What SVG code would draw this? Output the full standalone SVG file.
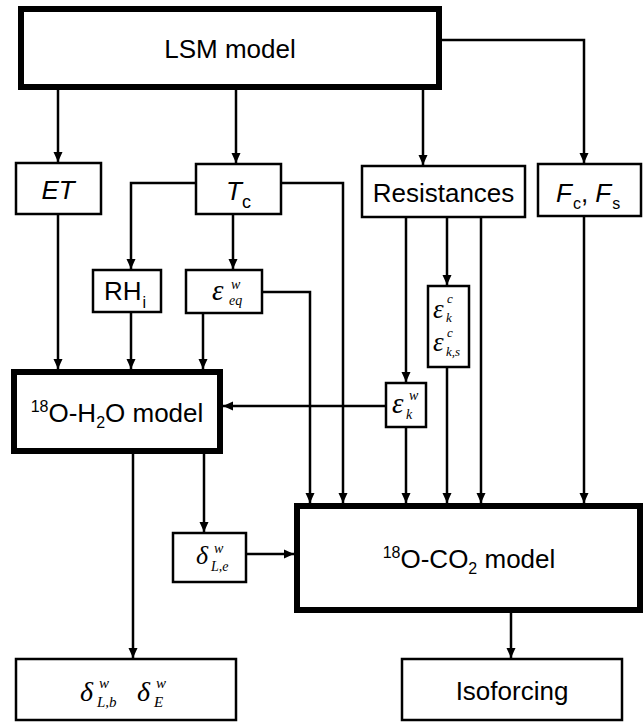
<svg xmlns="http://www.w3.org/2000/svg" width="644" height="722" viewBox="0 0 644 722">
<style>
.box{fill:#fff;stroke:#000;stroke-width:2.5}
.thick{stroke-width:6}
.t{font-family:"Liberation Sans",Arial,sans-serif;font-size:26px;fill:#000}
.m{font-family:"Liberation Serif","Times New Roman",serif;font-style:italic;fill:#000}
.c{stroke:#000;stroke-width:2.5;fill:none;marker-end:url(#ah)}
</style>
<defs>
<marker id="ah" markerUnits="userSpaceOnUse" markerWidth="10" markerHeight="10" refX="10" refY="5" orient="auto">
<path d="M0,0.5 L10,5 L0,9.5 z" fill="#000"/>
</marker>
</defs>
<rect width="644" height="722" fill="#fff"/>
<g id="connectors">
<path class="c" d="M58,90 V162"/>
<path class="c" d="M236,90 V163"/>
<path class="c" d="M423,90 V165"/>
<path class="c" d="M442,40 H584 V163"/>
<path class="c" d="M58,215 V369"/>
<path class="c" d="M196,183 H131 V269"/>
<path class="c" d="M233,215 V269"/>
<path class="c" d="M282,183 H343 V503"/>
<path class="c" d="M131,313 V369"/>
<path class="c" d="M203,314 V369"/>
<path class="c" d="M263,292 H310 V503"/>
<path class="c" d="M406,218 V382"/>
<path class="c" d="M447,218 V285"/>
<path class="c" d="M481,218 V503"/>
<path class="c" d="M385,406 H223"/>
<path class="c" d="M406,428 V503"/>
<path class="c" d="M447,368 V503"/>
<path class="c" d="M584,217 V503"/>
<path class="c" d="M133,454 V658"/>
<path class="c" d="M204,454 V532"/>
<path class="c" d="M247,554 H294"/>
<path class="c" d="M511,613 V658"/>
</g>
<g id="lsm">
<rect class="box thick" x="21" y="9" width="418" height="78"/>
<text class="t" x="230" y="58" text-anchor="middle">LSM model</text>
</g>
<g id="et">
<rect class="box" x="16" y="163" width="85" height="51"/>
<text class="t" x="58" y="199" text-anchor="middle" font-style="italic">ET</text>
</g>
<g id="tc">
<rect class="box" x="196" y="164" width="85" height="50"/>
<text class="t" x="226" y="200"><tspan font-style="italic">T</tspan><tspan font-size="18" dx="0" dy="8">c</tspan></text>
</g>
<g id="resistances">
<rect class="box" x="362" y="166" width="163" height="51"/>
<text class="t" x="443.5" y="202" text-anchor="middle">Resistances</text>
</g>
<g id="fluxes">
<rect class="box" x="538" y="164" width="103" height="52"/>
<text class="t" x="556" y="202"><tspan font-style="italic">F</tspan><tspan font-size="16" dx="1" dy="7">c</tspan><tspan dy="-7">, </tspan><tspan font-style="italic">F</tspan><tspan font-size="16" dx="1" dy="7">s</tspan></text>
</g>
<g id="rh">
<rect class="box" x="93" y="270" width="68" height="42"/>
<text class="t" x="104" y="300" font-size="24">RH<tspan font-size="16" dx="1" dy="8">i</tspan></text>
</g>
<g id="eps-eq">
<rect class="box" x="186" y="270" width="76" height="43"/>
<text class="m" x="212" y="300" font-size="29">ε</text>
<text class="m" x="231" y="289" font-size="14">w</text>
<text class="m" x="229" y="305" font-size="14">eq</text>
</g>
<g id="eps-kc">
<rect class="box" x="428" y="286" width="41" height="81"/>
<text class="m" x="433" y="318" font-size="27">ε</text>
<text class="m" x="447" y="303" font-size="13">c</text>
<text class="m" x="446" y="322" font-size="13">k</text>
<text class="m" x="433" y="351" font-size="27">ε</text>
<text class="m" x="447" y="337" font-size="13">c</text>
<text class="m" x="446" y="356" font-size="13">k,s</text>
</g>
<g id="eps-kw">
<rect class="box" x="386" y="383" width="40" height="44"/>
<text class="m" x="392" y="413" font-size="29">ε</text>
<text class="m" x="409" y="400" font-size="14">w</text>
<text class="m" x="406" y="419" font-size="14">k</text>
</g>
<g id="h2o-model">
<rect class="box thick" x="14" y="372" width="206" height="79"/>
<text class="t" x="117" y="422" text-anchor="middle"><tspan font-size="16" dy="-10">18</tspan><tspan dy="10">O-H</tspan><tspan font-size="16" dy="6">2</tspan><tspan dy="-6">O model</tspan></text>
</g>
<g id="delta-le">
<rect class="box" x="173" y="533" width="73" height="49"/>
<text class="m" x="196" y="564" font-size="26">δ</text>
<text class="m" x="214" y="553" font-size="14">w</text>
<text class="m" x="211" y="571" font-size="14">L,e</text>
</g>
<g id="co2-model">
<rect class="box thick" x="297" y="506" width="343" height="104"/>
<text class="t" x="469" y="568" text-anchor="middle"><tspan font-size="16" dy="-10">18</tspan><tspan dy="10">O-CO</tspan><tspan font-size="16" dy="6">2</tspan><tspan dy="-6"> model</tspan></text>
</g>
<g id="delta-out">
<rect class="box" x="16" y="659" width="220" height="61"/>
<text class="m" x="80" y="701" font-size="28">δ</text>
<text class="m" x="99" y="688" font-size="15">w</text>
<text class="m" x="97" y="707" font-size="15">L,b</text>
<text class="m" x="137" y="701" font-size="28">δ</text>
<text class="m" x="156" y="688" font-size="15">w</text>
<text class="m" x="154" y="707" font-size="15">E</text>
</g>
<g id="isoforcing">
<rect class="box" x="402" y="659" width="220" height="61"/>
<text class="t" x="512" y="700" text-anchor="middle">Isoforcing</text>
</g>
</svg>
